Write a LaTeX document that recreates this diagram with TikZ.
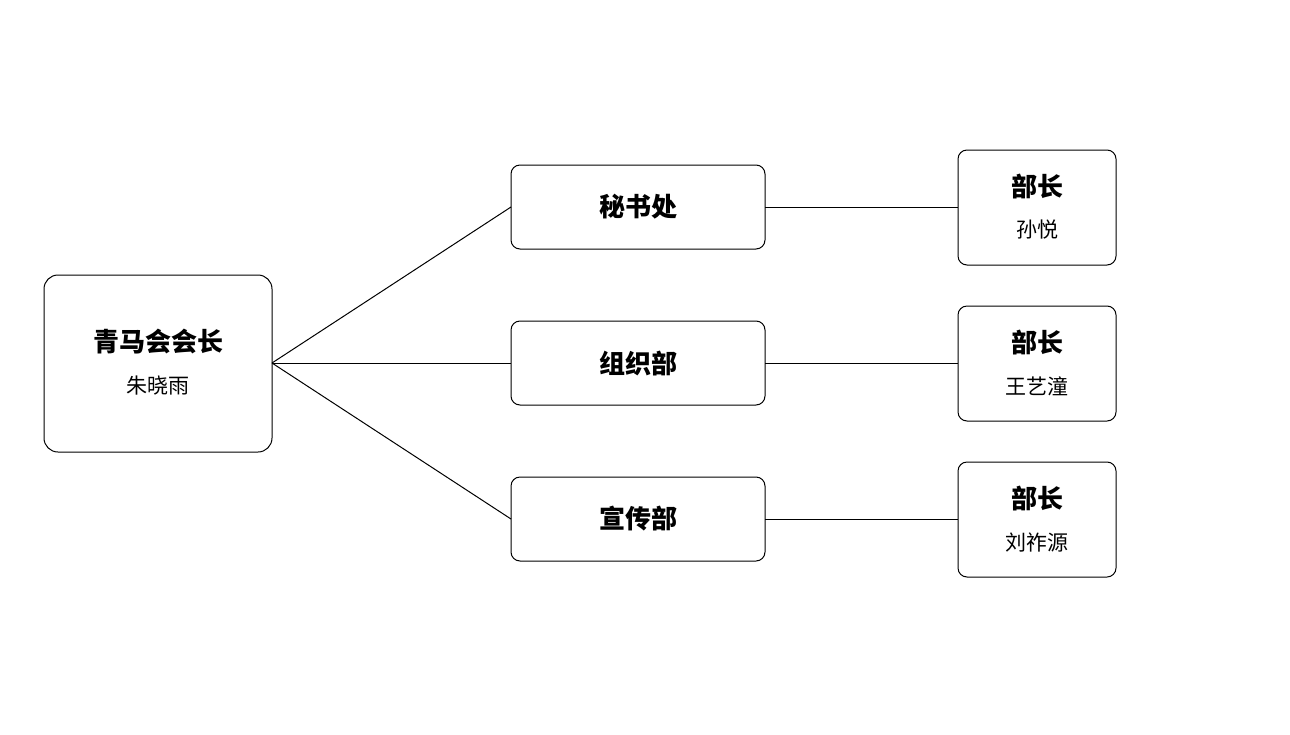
\documentclass[tikz,border=0pt]{standalone}
\usepackage{fontspec}
\setmainfont{Noto Sans CJK SC}
\begin{document}
\begin{tikzpicture}[x=1pt,y=-1pt,
  box/.style={draw,line width=1pt,rounded corners=9pt},
  ttl/.style={font=\fontsize{26}{29}\selectfont\bfseries},
  nm/.style={font=\fontsize{21}{24}\selectfont},
  ln/.style={line width=1pt}]
\useasboundingbox (0,0) rectangle (1290,734);
\draw[box,rounded corners=14pt] (44,275) rectangle (272,452);
\node[ttl] (p) at (158,342) {青马会会长};
\node[nm] (pn) at (158,386) {朱晓雨};
\coordinate (pr) at (272,363);
\foreach \y/\t [count=\i] in {207/秘书处,363/组织部,519/宣传部}{
  \draw[box] (511,\y-42) rectangle (765,\y+42);
  \coordinate (ml\i) at (511,\y);
  \coordinate (mr\i) at (765,\y);
  \node[ttl] (m\i) at (638,\y) {\t};
}
\foreach \y/\n [count=\i] in {207/孙悦,363/王艺潼,519/刘祚源}{
  \draw[box] (958,\y-57) rectangle (1116,\y+58);
  \coordinate (rl\i) at (958,\y);
  \node[ttl] (r\i) at (1037,\y-21) {部长};
  \node[nm] (rn\i) at (1037,\y+23) {\n};
}
\foreach \i in {1,2,3}{
  \draw[ln] (pr) -- (ml\i);
  \draw[ln] (mr\i) -- (rl\i);
}
\end{tikzpicture}
\end{document}
